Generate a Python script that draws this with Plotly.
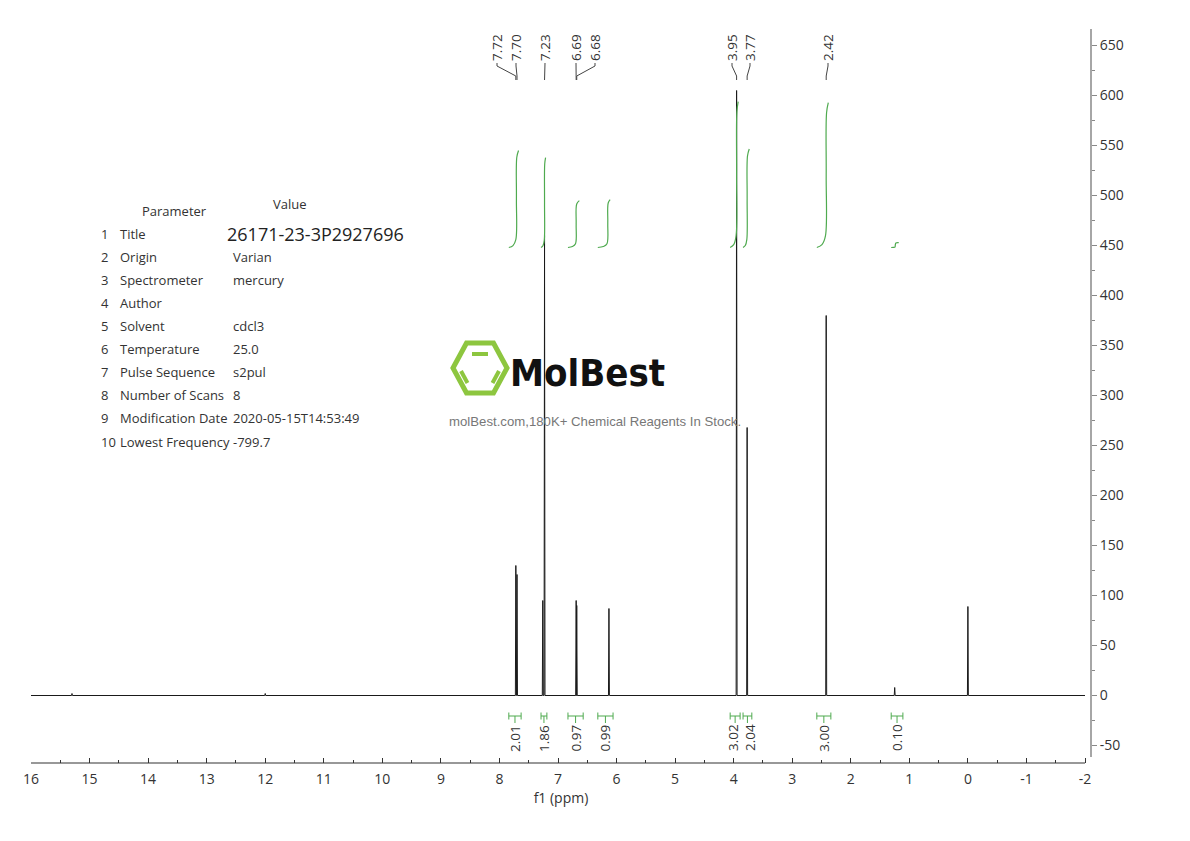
import plotly.graph_objects as go

# ---------------- data ----------------
peak_ppm = [15.30, 12.00, 7.72, 7.70, 7.26, 7.23, 6.69, 6.68, 6.13, 3.95, 3.77, 2.42, 1.25, 0.00]
peak_height = [2, 2, 130, 121, 95, 460, 95, 90, 87, 605, 268, 380, 8, 89]

peak_labels = ["7.72", "7.70", "7.23", "6.69", "6.68", "3.95", "3.77", "2.42"]
peak_label_target = [7.72, 7.70, 7.23, 6.69, 6.68, 3.95, 3.77, 2.42]

int_left = [7.84, 7.29, 6.83, 6.32, 4.06, 3.84, 2.58, 1.31]
int_right = [7.63, 7.19, 6.57, 6.06, 3.89, 3.69, 2.34, 1.11]
int_center = [7.71, 7.23, 6.69, 6.15, 3.95, 3.77, 2.42, 1.24]
int_values = [2.01, 1.86, 0.97, 0.99, 3.02, 2.04, 3.00, 0.10]

x_ticks = list(range(16, -3, -1))
y_ticks = list(range(-50, 651, 50))

params = ["Title", "Origin", "Spectrometer", "Author", "Solvent", "Temperature",
          "Pulse Sequence", "Number of Scans", "Modification Date", "Lowest Frequency"]
values = ["26171-23-3P2927696", "Varian", "mercury", "", "cdcl3", "25.0",
          "s2pul", "8", "2020-05-15T14:53:49", "-799.7"]

# ---------------- layout constants (page pixel coords) ----------------
W, H = 1190, 841
OFF = 8  # page body margin
PL, PR, PT, PB = 31, 1091, 29, 763
X0, X1 = 16.0, 16.0 - (PR - PL) / 58.556
Y0, Y1 = -67.5, 666.5
TXT = "#333333"
GREEN = "#4faa4f"
FONT = "Open Sans"


def ppx(px):
    return (px - PL) / (PR - PL)


def ppy(py):
    return (PB - py) / (PB - PT)


def vy(py):  # pixel y -> data value
    return Y1 - (py - PT) * (Y1 - Y0) / (PB - PT)


def vx(px):
    return X0 - (px - PL) * (X0 - X1) / (PR - PL)


fig = go.Figure()

# spectrum
hw = 0.008
sx, sy = [16.0], [0.0]
for p, h in sorted(zip(peak_ppm, peak_height), key=lambda t: -t[0]):
    sx += [p + hw, p, p - hw]
    sy += [0, h, 0]
sx.append(-2.0)
sy.append(0.0)
fig.add_trace(go.Scatter(x=sx, y=sy, mode="lines", line=dict(color="#1a1a1a", width=1),
                         hoverinfo="skip", showlegend=False))

# integral curves
base = 448
scale = 48.3
for L, R, c, v in zip(int_left, int_right, int_center, int_values):
    d = v * scale
    xs = [L, c + 0.45 * (L - c), c + 0.08 * (L - c), c, c - 0.08 * (c - R), c - 0.45 * (c - R)]
    ys = [base, base + 0.02 * d, base + 0.08 * d, base + 0.5 * d, base + 0.93 * d, base + d]
    fig.add_trace(go.Scatter(x=xs, y=ys, mode="lines", line=dict(color=GREEN, width=1.2, shape="spline"),
                             hoverinfo="skip", showlegend=False))

# integral brackets at bottom
by = vy(716)
tick = 3.5
bx, byy = [], []
for L, R in zip(int_left, int_right):
    m = (L + R) / 2
    bx += [L, R, None, L, L, None, R, R, None, m, m, None]
    byy += [by, by, None, by - tick, by + tick, None, by - tick, by + tick, None, by, vy(723), None]
fig.add_trace(go.Scatter(x=bx, y=byy, mode="lines", line=dict(color=GREEN, width=1),
                         hoverinfo="skip", showlegend=False))

int_label_pos = [(L + R) / 2 for L, R in zip(int_left, int_right)]
int_label_pos[4] = vx(733)
int_label_pos[5] = vx(750)
for pos, v in zip(int_label_pos, int_values):
    fig.add_annotation(x=pos, y=vy(738), text=f"{v:.2f}", textangle=-90, showarrow=False,
                       xanchor="center", yanchor="middle", font=dict(family=FONT, size=13.5, color=TXT))

# peak labels at top
label_px = [497, 516, 545, 576, 595, 732, 750, 828]
lx, ly = [], []
for lab, tgt, px in zip(peak_labels, peak_label_target, label_px):
    lp = vx(px)
    fig.add_annotation(x=lp, y=vy(48), text=lab, textangle=-90, showarrow=False,
                       xanchor="center", yanchor="middle", font=dict(family=FONT, size=13.5, color=TXT))
    lx += [lp, lp, tgt, tgt, None]
    ly += [vy(63), vy(66), vy(76), vy(80), None]
fig.add_trace(go.Scatter(x=lx, y=ly, mode="lines", line=dict(color="#444444", width=1),
                         hoverinfo="skip", showlegend=False))

# x-axis line (ends at -2)
fig.add_shape(type="line", xref="x", yref="paper", x0=16, x1=-2, y0=0, y1=0,
              line=dict(color="#333333", width=1.2))
# y-axis line
fig.add_shape(type="line", xref="paper", yref="paper", x0=1, x1=1, y0=ppy(757), y1=1,
              line=dict(color="#888888", width=1.5))

# parameter table
fig.add_annotation(xref="paper", yref="paper", x=ppx(174), y=ppy(211), text="Parameter",
                   showarrow=False, xanchor="center", yanchor="middle",
                   font=dict(family=FONT, size=13, color=TXT))
fig.add_annotation(xref="paper", yref="paper", x=ppx(290), y=ppy(204), text="Value",
                   showarrow=False, xanchor="center", yanchor="middle",
                   font=dict(family=FONT, size=13, color=TXT))
row_y = [234, 257, 280, 303, 326, 349, 372, 395, 418, 442]
for i, (p, v, ry) in enumerate(zip(params, values, row_y)):
    fig.add_annotation(xref="paper", yref="paper", x=ppx(99), y=ppy(ry), text=str(i + 1),
                       showarrow=False, xanchor="left", yanchor="middle",
                       font=dict(family=FONT, size=13, color=TXT))
    fig.add_annotation(xref="paper", yref="paper", x=ppx(118), y=ppy(ry), text=p,
                       showarrow=False, xanchor="left", yanchor="middle",
                       font=dict(family=FONT, size=13, color=TXT))
    if v:
        big = i == 0
        fig.add_annotation(xref="paper", yref="paper", x=ppx(225 if big else 231), y=ppy(ry), text=v,
                           showarrow=False, xanchor="left", yanchor="middle",
                           font=dict(family=FONT, size=18 if big else 13, color="#222222" if big else TXT))

# MolBest watermark
LG = "#8dc63f"
hexpts = [(453, 368), (466.5, 343), (493.5, 343), (507, 368), (493.5, 393), (466.5, 393)]
path = "M " + " L ".join(f"{ppx(a)},{ppy(b)}" for a, b in hexpts) + " Z"
fig.add_shape(type="path", xref="paper", yref="paper", path=path, line=dict(color=LG, width=5))
for (a, b), (c, d) in [((472, 354), (488, 354)), ((461, 371), (467.5, 383)), ((499, 371), (492.5, 383))]:
    fig.add_shape(type="line", xref="paper", yref="paper", x0=ppx(a), y0=ppy(b), x1=ppx(c), y1=ppy(d),
                  line=dict(color=LG, width=4))
fig.add_annotation(xref="paper", yref="paper", x=ppx(508), y=ppy(373), text="<b>MolBest</b>",
                   showarrow=False, xanchor="left", yanchor="middle",
                   font=dict(family="DejaVu Sans Condensed", size=38, color="#111111"))
fig.add_annotation(xref="paper", yref="paper", x=ppx(447), y=ppy(421),
                   text="molBest.com,180K+ Chemical Reagents In Stock.",
                   showarrow=False, xanchor="left", yanchor="middle",
                   font=dict(family="Liberation Sans", size=13.2, color="#777777"))

fig.update_layout(
    width=W - OFF, height=H - OFF,
    margin=dict(l=PL - OFF, r=W - PR, t=PT - OFF, b=H - PB, pad=0),
    paper_bgcolor="white", plot_bgcolor="white",
    showlegend=False,
    xaxis=dict(range=[X0, X1], tickvals=x_ticks, ticktext=[str(t) for t in x_ticks],
               ticks="inside", ticklen=5, tickcolor="#333333", showgrid=False, zeroline=False,
               showline=False, tickfont=dict(family=FONT, size=14, color=TXT),
               ticklabelstandoff=6,
               minor=dict(dtick=0.5, ticks="inside", ticklen=3, tickcolor="#333333", showgrid=False),
               title=dict(text="f1 (ppm)", font=dict(family=FONT, size=14, color=TXT), standoff=2)),
    yaxis=dict(range=[Y0, Y1], side="right", tickvals=y_ticks, ticktext=[str(t) for t in y_ticks],
               ticks="outside", ticklen=5, tickcolor="#888888", showgrid=False, zeroline=False,
               showline=False, tickfont=dict(family=FONT, size=14, color=TXT),
               minor=dict(dtick=25, ticks="outside", ticklen=3, tickcolor="#888888", showgrid=False)),
)

fig.write_html("out.html")
